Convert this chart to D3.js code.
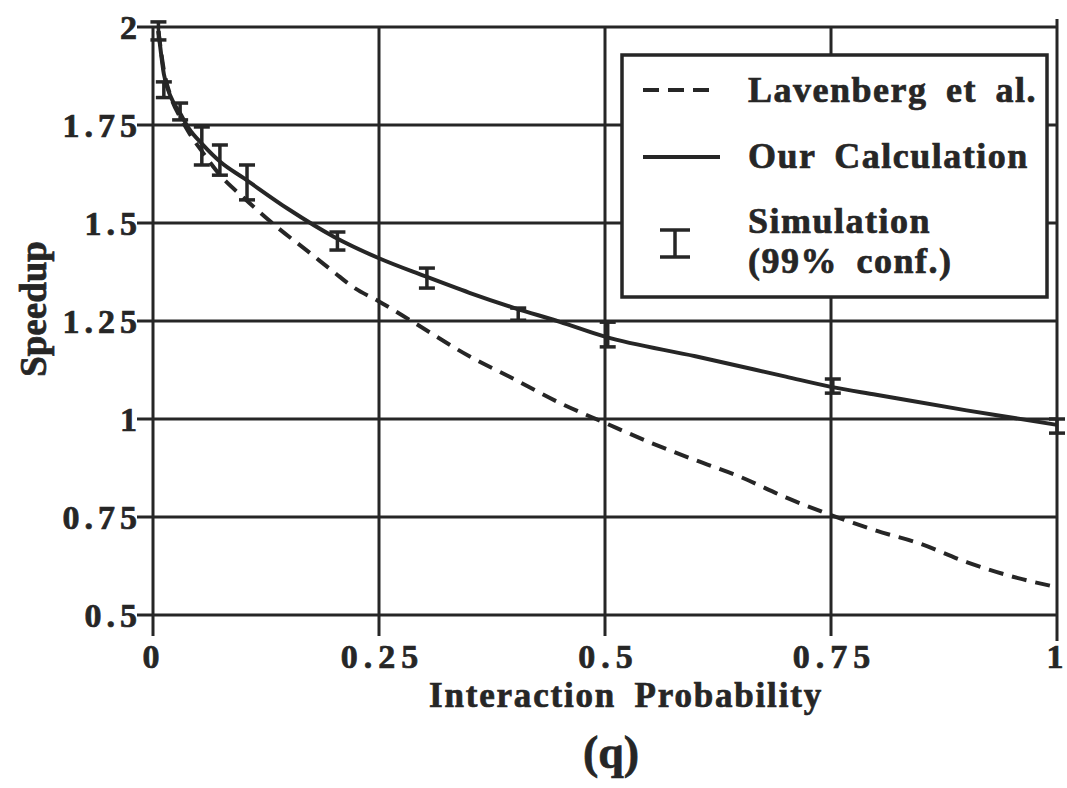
<!DOCTYPE html>
<html>
<head>
<meta charset="utf-8">
<script src="https://cdn.jsdelivr.net/npm/d3@7"></script>
<style>
  body { margin: 0; background: #fff; }
  text { font-family: "Liberation Serif", "Times New Roman", serif; font-weight: bold; fill: #262626; stroke: #262626; stroke-width: 0.7px; }
</style>
</head>
<body>
<svg id="chart"></svg>
<script>
// values
const xTicks = [0, 0.25, 0.5, 0.75, 1];
const xTickLabels = ['0', '0.25', '0.5', '0.75', '1'];
const yTicks = [0.5, 0.75, 1, 1.25, 1.5, 1.75, 2];
const yTickLabels = ['0.5', '0.75', '1', '1.25', '1.5', '1.75', '2'];

// "Our Calculation" (solid)
const qCalc = [0.006, 0.012, 0.02, 0.03, 0.04, 0.055, 0.075, 0.1, 0.15, 0.2, 0.25, 0.3, 0.35, 0.4, 0.45, 0.5, 0.6, 0.7, 0.75, 0.8, 0.9, 1.0];
const calc  = [1.99, 1.88, 1.82, 1.78, 1.74, 1.70, 1.655, 1.615, 1.535, 1.465, 1.41, 1.365, 1.322, 1.283, 1.248, 1.21, 1.16, 1.108, 1.082, 1.062, 1.022, 0.985];

// "Lavenberg et al." (dashed)
const qLav = [0.006, 0.012, 0.02, 0.03, 0.04, 0.055, 0.075, 0.1, 0.137, 0.17, 0.2, 0.221, 0.25, 0.288, 0.35, 0.395, 0.45, 0.5, 0.55, 0.6, 0.65, 0.7, 0.75, 0.772, 0.8, 0.846, 0.9, 0.957, 1.0];
const lav  = [1.99, 1.89, 1.82, 1.77, 1.73, 1.68, 1.62, 1.565, 1.49, 1.43, 1.375, 1.337, 1.30, 1.247, 1.16, 1.107, 1.041, 0.99, 0.94, 0.895, 0.852, 0.80, 0.755, 0.737, 0.715, 0.684, 0.635, 0.594, 0.571];

// Simulation, 99% confidence intervals
const qSim  = [0.006, 0.012, 0.03, 0.054, 0.074, 0.104, 0.204, 0.303, 0.404, 0.503, 0.752, 1.0];
const simHi = [2.013, 1.86, 1.806, 1.745, 1.699, 1.648, 1.477, 1.385, 1.283, 1.247, 1.102, 1.0];
const simLo = [1.967, 1.82, 1.763, 1.648, 1.622, 1.559, 1.431, 1.334, 1.252, 1.184, 1.066, 0.964];

const width = 1067, height = 788;
const ink = '#262626';
const tickLs = 5; // wide tracking of the tick numbers

const x = d3.scaleLinear().domain([0, 1]).range([153, 1057]);
const y = d3.scaleLinear().domain([0.5, 2]).range([615, 27]);

const svg = d3.select('#chart')
  .attr('width', width)
  .attr('height', height)
  .attr('viewBox', [0, 0, width, height]);

svg.append('rect').attr('width', width).attr('height', height).attr('fill', '#fff');

/** GRID **/
svg.append('g')
  .selectAll('line')
  .data(yTicks)
  .join('line')
  .attr('x1', x(0) - 16)
  .attr('x2', x(1))
  .attr('y1', (d) => y(d))
  .attr('y2', (d) => y(d))
  .style('stroke', ink)
  .style('stroke-width', 3);

svg.append('g')
  .selectAll('line')
  .data(xTicks)
  .join('line')
  .attr('x1', (d) => x(d))
  .attr('x2', (d) => x(d))
  .attr('y1', (d) => (d === 1 ? y(2) - 8 : y(2)))
  .attr('y2', (d) => y(0.5) + (d === 1 ? 26 : 21))
  .style('stroke', ink)
  .style('stroke-width', 3);

/** TICK LABELS **/
svg.append('g')
  .selectAll('text')
  .data(yTicks)
  .join('text')
  .attr('x', (d, i) => x(0) - 16 + (yTickLabels[i].length > 1 ? tickLs : 0))
  .attr('y', (d) => y(d) + 12)
  .attr('text-anchor', 'end')
  .style('font-size', '34px')
  .style('letter-spacing', (d, i) => (yTickLabels[i].length > 1 ? tickLs : 0) + 'px')
  .text((d, i) => yTickLabels[i]);

svg.append('g')
  .selectAll('text')
  .data(xTicks)
  .join('text')
  .attr('x', (d, i) => x(d) + (xTickLabels[i].length > 1 ? tickLs / 2 + 1 : -2))
  .attr('y', 668)
  .attr('text-anchor', 'middle')
  .style('font-size', '34px')
  .style('letter-spacing', (d, i) => (xTickLabels[i].length > 1 ? tickLs + 1 : 0) + 'px')
  .text((d, i) => xTickLabels[i]);

/** TITLES **/
svg.append('text')
  .attr('x', 626).attr('y', 707)
  .attr('text-anchor', 'middle')
  .style('font-size', '35px')
  .style('letter-spacing', '1.8px')
  .style('word-spacing', '8px')
  .text('Interaction Probability');

svg.append('text')
  .attr('x', 611).attr('y', 768)
  .attr('text-anchor', 'middle')
  .style('font-size', '46px')
  .text('(q)');

svg.append('text')
  .attr('transform', 'translate(46,309) rotate(-90)')
  .attr('text-anchor', 'middle')
  .style('font-size', '37px')
  .text('Speedup');

/** CURVES **/
const line = d3.line()
  .x((d) => x(d[0]))
  .y((d) => y(d[1]))
  .curve(d3.curveMonotoneX);

svg.append('path')
  .attr('d', line(qLav.map((q, i) => [q, lav[i]])))
  .attr('fill', 'none')
  .style('stroke', ink)
  .style('stroke-width', 4)
  .style('stroke-dasharray', '15,9');

svg.append('path')
  .attr('d', line(qCalc.map((q, i) => [q, calc[i]])))
  .attr('fill', 'none')
  .style('stroke', ink)
  .style('stroke-width', 4);

/** ERROR BARS **/
const bars = svg.append('g').selectAll('g')
  .data(qSim)
  .join('g');
bars.append('line')
  .attr('x1', (d) => x(d)).attr('x2', (d) => x(d))
  .attr('y1', (d, i) => y(simHi[i])).attr('y2', (d, i) => y(simLo[i]))
  .style('stroke', ink).style('stroke-width', 3.5);
bars.append('line')
  .attr('x1', (d) => x(d) - 8).attr('x2', (d) => x(d) + 8)
  .attr('y1', (d, i) => y(simHi[i])).attr('y2', (d, i) => y(simHi[i]))
  .style('stroke', ink).style('stroke-width', 3.5);
bars.append('line')
  .attr('x1', (d) => x(d) - 8).attr('x2', (d) => x(d) + 8)
  .attr('y1', (d, i) => y(simLo[i])).attr('y2', (d, i) => y(simLo[i]))
  .style('stroke', ink).style('stroke-width', 3.5);

/** LEGEND **/
const legend = svg.append('g');
legend.append('rect')
  .attr('x', 622).attr('y', 55)
  .attr('width', 425).attr('height', 242)
  .attr('fill', '#fff')
  .style('stroke', ink)
  .style('stroke-width', 3.5);

legend.append('line')
  .attr('x1', 643).attr('x2', 712).attr('y1', 90).attr('y2', 90)
  .style('stroke', ink).style('stroke-width', 4)
  .style('stroke-dasharray', '16,9');
legend.append('line')
  .attr('x1', 643).attr('x2', 720).attr('y1', 157).attr('y2', 157)
  .style('stroke', ink).style('stroke-width', 4);
legend.append('line')
  .attr('x1', 675).attr('x2', 675).attr('y1', 230).attr('y2', 257)
  .style('stroke', ink).style('stroke-width', 3.5);
legend.append('line')
  .attr('x1', 660).attr('x2', 690).attr('y1', 230).attr('y2', 230)
  .style('stroke', ink).style('stroke-width', 3.5);
legend.append('line')
  .attr('x1', 660).attr('x2', 690).attr('y1', 257).attr('y2', 257)
  .style('stroke', ink).style('stroke-width', 3.5);

const legendText = [
  ['Lavenberg et al.', 102],
  ['Our Calculation', 168],
  ['Simulation', 233],
  ['(99% conf.)', 273],
];
legend.selectAll('text')
  .data(legendText)
  .join('text')
  .attr('x', 748)
  .attr('y', (d) => d[1])
  .style('font-size', '36px')
  .style('letter-spacing', '1.5px')
  .style('word-spacing', '8px')
  .text((d) => d[0]);
</script>
</body>
</html>
